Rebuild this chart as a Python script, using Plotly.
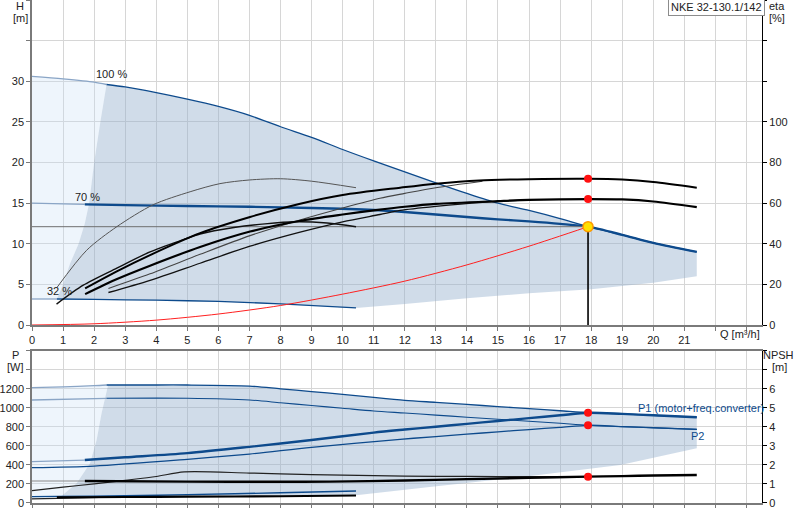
import plotly.graph_objects as go

# ---- top panel: head curves [m] ----
q_100 = [0, 1, 2, 2.4, 3, 4, 5, 6, 7, 8, 9, 10, 11, 12, 13, 14, 15, 16, 17, 17.9, 19, 20, 21.4]
h_100 = [30.6, 30.3, 29.9, 29.6, 29.3, 28.6, 27.8, 26.9, 25.8, 24.4, 23.1, 21.6, 20.2, 18.85,
         17.5, 16.2, 15.0, 14.1, 13.1, 12.1, 11.1, 10.1, 9.0]
q_70 = [0, 1, 1.7, 3, 5, 7, 9, 11, 12, 13, 14, 15, 16, 17, 17.9, 19, 20, 21.4]
h_70 = [15.0, 14.9, 14.85, 14.75, 14.65, 14.55, 14.4, 14.15, 13.9, 13.6, 13.3, 13.0, 12.75,
        12.45, 12.1, 11.1, 10.1, 9.0]
q_32 = [0, 0.8, 2, 4, 6, 8, 10.43]
h_32 = [3.2, 3.2, 3.15, 3.05, 2.9, 2.6, 2.1]

# limits of the shaded area
q_min = [0.8, 1.0, 1.22, 1.5, 1.7, 1.84, 2.0, 2.2, 2.4]
h_min = [3.2, 5.0, 7.5, 10.0, 12.5, 15.0, 20.0, 25.0, 29.6]
q_low = [10.43, 12, 14, 16, 18, 20, 21.4]
h_low = [2.1, 2.58, 3.28, 3.9, 4.39, 5.2, 6.0]

# system curve and duty point
q_sys = [0, 2, 4, 6, 8, 10, 12, 14, 16, 17.9]
h_sys = [0, 0.15, 0.6, 1.35, 2.4, 3.8, 5.4, 7.4, 9.7, 12.1]
q_duty = 17.9
h_duty = 12.1

# ---- top panel: efficiency curves [%] ----
q_eta_a = [0.8, 1.76, 2.73, 3.9, 5.09, 6.05, 7.0, 8.0, 9.0, 10.43]
eta_a = [18.4, 36.8, 48.4, 59.2, 65.6, 69.6, 71.4, 72.0, 70.8, 67.6]
q_eta_1 = [0.79, 1.65, 2.73, 3.8, 4.87, 5.41, 6.5, 7.5, 8.5, 9.5, 10.43]
eta_1 = [10.3, 19.6, 28.0, 36.0, 42.0, 44.8, 48.0, 49.8, 50.8, 50.2, 48.4]
q_eta_2 = [1.71, 2.73, 3.8, 5.41, 7.02, 8.6, 10, 11.85, 13, 14.4, 16, 17.9, 19, 20, 21.4]
eta_2 = [18.0, 26.4, 34.4, 45.2, 53.2, 59.6, 64.0, 67.6, 69.6, 71.2, 71.8, 72.0, 71.6, 70.4, 67.6]
q_eta_3 = [1.71, 2.7, 3.8, 5.41, 7.02, 8.6, 10, 11.2, 12, 13, 15, 16, 17.9, 19, 20, 21.4]
eta_3 = [15.2, 22.4, 29.2, 38.4, 46.0, 51.2, 54.4, 56.8, 58.2, 59.6, 61.0, 61.6, 62.0, 61.8, 60.8, 58.0]
q_eta_4 = [2.46, 3.8, 5.41, 7.02, 8.6, 10, 11.2, 12, 13, 14.5]
eta_4 = [18.0, 25.2, 34.8, 44.0, 51.6, 57.6, 62.4, 64.8, 67.6, 70.8]
q_eta_5 = [2.46, 3.8, 5.41, 7.02, 8.6, 10, 11.2, 11.85, 13, 14.5, 16]
eta_5 = [16.0, 22.0, 30.4, 38.8, 45.6, 50.8, 54.4, 56.4, 58.4, 60.4, 61.6]
eta_duty = [72.0, 62.0]

# ---- bottom panel: power [W] ----
q_p1_100 = [0, 1, 2, 2.4, 4, 5, 7, 8, 9, 10, 11, 12, 13, 14, 15, 16, 17, 17.9, 19, 20, 21.4]
p1_100 = [1211, 1220, 1232, 1239, 1239, 1239, 1228, 1199, 1170, 1140, 1108, 1078, 1056, 1034,
          1012, 990, 968, 947, 935, 920, 900]
q_p2_100 = [0, 2.4, 5, 7, 8, 9, 10, 11, 12, 13, 14, 15, 16, 17, 17.9, 19, 20, 21.4]
p2_100 = [1081, 1099, 1099, 1081, 1052, 1023, 994, 965, 944, 922, 900, 878, 858, 836, 815, 801, 789, 772]
q_p1_op = [0, 1.7, 3, 5, 7, 9, 11, 12, 13, 14, 15, 16, 17, 17.9, 19, 20, 21.4]
p1_op = [432, 449, 478, 522, 588, 660, 738, 770, 800, 830, 860, 890, 920, 947, 935, 920, 900]
q_p2_op = [0, 2, 5, 7, 9, 11.85, 13, 14, 15, 16, 17, 17.9, 19, 20, 21.4]
p2_op = [369, 386, 457, 512, 583, 667, 696, 721, 746, 770, 793, 815, 801, 789, 772]
q_p1_32 = [0, 0.8, 3, 5, 8, 10.43]
p1_32 = [63, 66, 73, 84, 105, 123]
p_duty = [947, 815]

q_pmin = [2.45, 2.24, 2.08, 1.87, 1.44, 0.9]
p_pmin = [1239, 941, 660, 414, 204, 57]
q_plow = [0.9, 3, 5, 8, 10.43, 12.8, 16.04, 18.94, 21.4]
p_plow = [57, 60, 63, 68, 78, 165, 281, 397, 572]
q_pfloor = [0]
p_pfloor = [39]

# ---- bottom panel: NPSH [m] ----
q_npsh_a = [0, 1, 2, 3, 4, 4.9, 7, 9, 11, 13, 15, 17.9]
npsh_a = [0.64, 0.82, 0.99, 1.18, 1.38, 1.62, 1.56, 1.48, 1.42, 1.39, 1.38, 1.37]
q_npsh_b = [0, 1.7, 5, 8, 9.6, 12, 14, 16, 17.9, 19, 20, 21.4]
npsh_b = [1.14, 1.14, 1.11, 1.1, 1.11, 1.17, 1.24, 1.31, 1.37, 1.4, 1.43, 1.46]
q_npsh_c = [0.8, 3, 5, 8, 10.43]
npsh_c = [0.285, 0.3, 0.315, 0.34, 0.38]
q_npsh_d = [0, 0.8, 2.5]
npsh_d = [0.2, 0.23, 0.29]
npsh_duty = 1.37

BLUE = '#0d4a8c'
BLUE_LT = '#8aa5c6'
DARK_FILL = 'rgba(150,178,206,0.45)'
LIGHT_FILL = 'rgba(200,222,245,0.3)'

fig = go.Figure()


def line(x, y, color, width, xa='x', ya='y', smooth=True):
    shape = 'spline' if smooth else 'linear'
    fig.add_trace(go.Scatter(x=x, y=y, mode='lines', xaxis=xa, yaxis=ya, hoverinfo='skip',
                             line=dict(color=color, width=width, shape=shape, smoothing=0.8)))


# shaded regions, top
fig.add_trace(go.Scatter(x=q_100[:4] + q_min[::-1] + q_32[:1], y=h_100[:4] + h_min[::-1] + h_32[:1],
                         fill='toself', fillcolor=LIGHT_FILL, mode='none', hoverinfo='skip'))
fig.add_trace(go.Scatter(x=q_min + q_100[4:] + q_low[::-1] + q_32[1:][::-1],
                         y=h_min + h_100[4:] + h_low[::-1] + h_32[1:][::-1],
                         fill='toself', fillcolor=DARK_FILL, mode='none', hoverinfo='skip'))

# head curves
line(q_100[:4], h_100[:4], BLUE_LT, 1.3)
line(q_100[3:], h_100[3:], BLUE, 1.3)
line(q_70[:3], h_70[:3], BLUE_LT, 1.3)
line(q_70[2:], h_70[2:], BLUE, 2.4)
line(q_32[:2], h_32[:2], BLUE_LT, 1.3)
line(q_32[1:], h_32[1:], BLUE, 1.3)
line([0, q_duty], [h_duty, h_duty], '#6e6e6e', 1, smooth=False)
line(q_sys, h_sys, '#ff2020', 1)
line([q_duty, q_duty], [0, h_duty], '#000000', 1.6, smooth=False)
fig.add_trace(go.Scatter(x=[q_duty], y=[h_duty], mode='markers', hoverinfo='skip',
                         marker=dict(size=10, color='#ffe000', line=dict(color='#ff9a00', width=1.5))))

# efficiency curves
line(q_eta_a, eta_a, '#555555', 1, ya='y2')
line(q_eta_1, eta_1, '#111111', 1.4, ya='y2')
line(q_eta_4, eta_4, '#444444', 1.1, ya='y2')
line(q_eta_5, eta_5, '#111111', 1.3, ya='y2')
line(q_eta_2, eta_2, '#000000', 2, ya='y2')
line(q_eta_3, eta_3, '#000000', 2.2, ya='y2')
fig.add_trace(go.Scatter(x=[q_duty, q_duty], y=eta_duty, mode='markers', yaxis='y2', hoverinfo='skip',
                         marker=dict(size=8, color='#ff1010')))

# shaded regions, bottom
fig.add_trace(go.Scatter(x=q_p1_100[:4] + q_pmin + q_pfloor, y=p1_100[:4] + p_pmin + p_pfloor,
                         xaxis='x2', yaxis='y3', fill='toself', fillcolor=LIGHT_FILL, mode='none',
                         hoverinfo='skip'))
fig.add_trace(go.Scatter(x=q_pmin[::-1] + q_p1_100[4:] + q_plow[::-1],
                         y=p_pmin[::-1] + p1_100[4:] + p_plow[::-1],
                         xaxis='x2', yaxis='y3', fill='toself', fillcolor=DARK_FILL, mode='none',
                         hoverinfo='skip'))

# power curves
line(q_p1_100[:4], p1_100[:4], BLUE_LT, 1.3, 'x2', 'y3')
line(q_p1_100[3:], p1_100[3:], BLUE, 1.3, 'x2', 'y3')
line(q_p2_100[:2], p2_100[:2], BLUE_LT, 1.3, 'x2', 'y3')
line(q_p2_100[1:], p2_100[1:], BLUE, 1.1, 'x2', 'y3')
line(q_p1_op[:2], p1_op[:2], BLUE_LT, 1.3, 'x2', 'y3')
line(q_p1_op[1:], p1_op[1:], BLUE, 2.4, 'x2', 'y3')
line(q_p2_op, p2_op, BLUE, 1.3, 'x2', 'y3')
line(q_p1_32, p1_32, BLUE, 1.3, 'x2', 'y3')
fig.add_trace(go.Scatter(x=[q_duty, q_duty], y=p_duty, mode='markers', xaxis='x2', yaxis='y3',
                         hoverinfo='skip', marker=dict(size=8, color='#ff1010')))

# NPSH curves
line(q_npsh_a, npsh_a, '#222222', 1.2, 'x2', 'y4')
line(q_npsh_b[:2], npsh_b[:2], '#888888', 1.1, 'x2', 'y4')
line(q_npsh_b[1:], npsh_b[1:], '#000000', 2.4, 'x2', 'y4')
line(q_npsh_d, npsh_d, '#222222', 1.1, 'x2', 'y4')
line(q_npsh_c, npsh_c, '#000000', 2.2, 'x2', 'y4')
fig.add_trace(go.Scatter(x=[q_duty], y=[npsh_duty], mode='markers', xaxis='x2', yaxis='y4',
                         hoverinfo='skip', marker=dict(size=8, color='#ff1010')))

FONT = dict(family='Arial', size=11, color='#222222')
GRID = '#d6d6d6'
AX = '#7a7a7a'
XDOM = [32 / 800, 762 / 800]

q_ticks = list(range(24))
q_text = [str(v) for v in range(22)] + ['', '']

common_x = dict(range=[0, 23.5], domain=XDOM, tickvals=q_ticks, showgrid=True, gridcolor=GRID,
                showline=True, linecolor=AX, linewidth=1.5, mirror=True, ticks='outside',
                ticklen=4, tickcolor=AX, zeroline=False, tickfont=FONT, automargin=False)
common_y = dict(showgrid=True, gridcolor=GRID, showline=True, linecolor=AX, linewidth=1.5,
                ticks='outside', ticklen=4, tickcolor=AX, zeroline=False, tickfont=FONT,
                automargin=False)
right_y = dict(showgrid=False, showline=True, linecolor='#000000', linewidth=1.2, ticks='outside',
               ticklen=4, tickcolor='#000000', zeroline=False, tickfont=FONT, side='right',
               automargin=False)

fig.update_layout(
    width=800, height=520, margin=dict(l=0, r=0, t=0, b=0),
    paper_bgcolor='white', plot_bgcolor='white', showlegend=False,
    xaxis=dict(common_x, anchor='y', ticktext=q_text),
    yaxis=dict(common_y, domain=[195 / 520, 1], range=[0, 40], tickvals=list(range(0, 45, 5)),
               ticktext=['0', '5', '10', '15', '20', '25', '30', '', '']),
    yaxis2=dict(right_y, overlaying='y', anchor='x', range=[0, 160], tickvals=list(range(0, 180, 20)),
                ticktext=['0', '20', '40', '60', '80', '100', '', '', '']),
    xaxis2=dict(common_x, anchor='y3', showticklabels=False),
    yaxis3=dict(common_y, domain=[17.3 / 520, 169.3 / 520], range=[0, 1600],
                tickvals=list(range(0, 1800, 200)),
                ticktext=['0', '200', '400', '600', '800', '1000', '1200', '', '']),
    yaxis4=dict(right_y, overlaying='y3', anchor='x2', range=[0, 8], tickvals=list(range(9)),
                ticktext=['0', '1', '2', '3', '4', '5', '6', '', '']),
)


def note(text, x, y, xref='paper', yref='paper', xanchor='center', color='#222222', **kw):
    if xref == 'paper':
        x = x / 800
    if yref == 'paper':
        y = 1 - y / 520
    fig.add_annotation(text=text, x=x, y=y, xref=xref, yref=yref, xanchor=xanchor, yanchor='middle',
                       showarrow=False, font=dict(family='Arial', size=11, color=color), **kw)


note('H', 20, 6)
note('[m]', 20, 18)
note('eta', 777, 6)
note('[%]', 777, 18)
note('P', 15, 355)
note('[W]', 15, 367)
note('NPSH', 778, 355)
note('[m]', 779, 367)
note('Q [m³/h]', 740, 334)
note('100 %', 2.0, 30.9, 'x', 'y', 'left')
note('70 %', 1.32, 15.8, 'x', 'y', 'left')
note('32 %', 0.42, 4.2, 'x', 'y', 'left')
note('P1 (motor+freq.converter)', 19.45, 994, 'x2', 'y3', 'left', BLUE)
note('P2', 21.15, 702, 'x2', 'y3', 'left', BLUE)
note('NKE 32-130.1/142', 716, 7, bordercolor='#8c8c8c', borderwidth=1, borderpad=2, bgcolor='white')

# page margin off, so the 800x520 figure fills the window exactly
fig.write_html('out.html', config={'displayModeBar': False},
               post_script="document.body.style.margin='0px';"
                           "document.body.style.overflow='hidden';")
